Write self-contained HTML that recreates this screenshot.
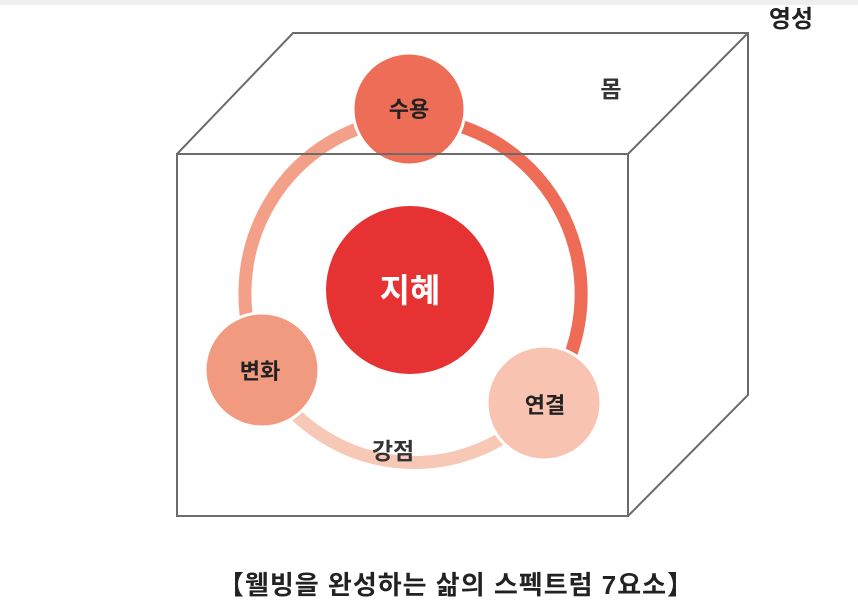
<!DOCTYPE html>
<html><head><meta charset="utf-8"><style>
html,body{margin:0;padding:0;background:#fff;}
body{width:858px;height:610px;overflow:hidden;font-family:"Liberation Sans","Noto Sans CJK KR",sans-serif;}
</style></head><body>
<svg width="858" height="610" viewBox="0 0 858 610" xmlns="http://www.w3.org/2000/svg" font-family="Liberation Sans, Noto Sans CJK KR, sans-serif">
<rect x="0" y="0" width="858" height="5" fill="#efefef"/>
<g fill="none" stroke-width="13">
<path d="M 262 370 A 173 176 0 0 1 409 118" stroke="#f4a088"/>
<path d="M 409 118 A 173 176 0 0 1 544 403" stroke="#ee6b55"/>
<path d="M 544 403 A 173 176 0 0 1 262 370" stroke="#f8c8b6"/>
</g>
<circle cx="409" cy="109" r="56" fill="#ee6d56" stroke="#fff" stroke-width="3"/>
<circle cx="410" cy="290" r="84" fill="#e63232"/>
<circle cx="262" cy="370" r="57" fill="#f19a7f" stroke="#fff" stroke-width="3"/>
<circle cx="544" cy="403" r="57" fill="#f8c3b0" stroke="#fff" stroke-width="3"/>
<g fill="none" stroke="#6b6b6b" stroke-width="2">
<polyline points="177,154 293,33 748,33 748,395 628,516"/>
<line x1="628" y1="154" x2="748" y2="33"/>
<rect x="177" y="154" width="451" height="362"/>
</g>
<g font-weight="bold" fill="#222" text-anchor="middle">
<text x="409" y="117" font-size="22">수용</text>
<text x="410" y="302" font-size="33" fill="#fff">지혜</text>
<text x="260" y="379" font-size="22">변화</text>
<text x="545" y="413" font-size="22">연결</text>
<text x="393" y="459" font-size="23" fill="#333">강점</text>
<text x="611" y="97" font-size="23" fill="#333">몸</text>
<text x="791" y="27" font-size="24">영성</text>
<text x="456" y="594" font-size="26" letter-spacing="1">【웰빙을 완성하는 삶의 스펙트럼 7요소】</text>
</g>
</svg>
</body></html>
